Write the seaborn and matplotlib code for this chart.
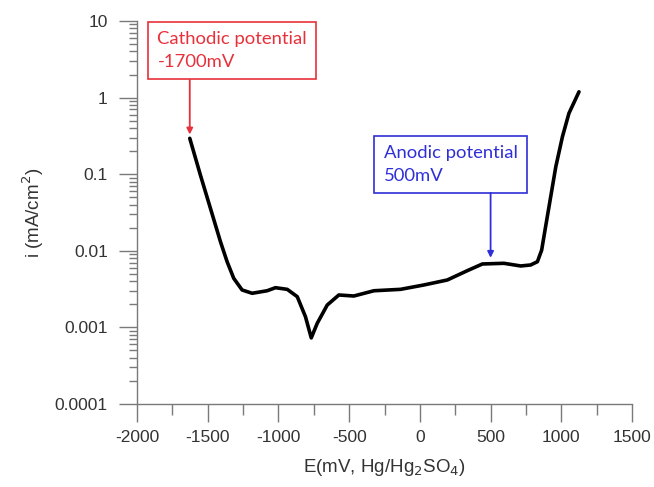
import pandas as pd
import seaborn as sns
import matplotlib.pyplot as plt
from matplotlib.ticker import LogLocator, MultipleLocator, FixedFormatter, FixedLocator

# polarization curve
potential = [-1627, -1552, -1481, -1410, -1363, -1316, -1257, -1186, -1080, -1021,
             -938, -867, -809, -768, -726, -655, -573, -467, -325, -137,
             28, 194, 335, 442, 594, 713, 783, 831, 861, 889,
             925, 961, 1008, 1054, 1125]
current = [0.294, 0.0977, 0.0359, 0.01315, 0.00721, 0.00437, 0.00308, 0.00279, 0.00301, 0.0033,
           0.00314, 0.00252, 0.00138, 0.00073, 0.00113, 0.00196, 0.00265, 0.00257, 0.00301, 0.00314,
           0.00358, 0.00416, 0.0055, 0.00673, 0.00687, 0.00634, 0.00653, 0.00721, 0.0102, 0.0207,
           0.0508, 0.125, 0.309, 0.624, 1.19]

y_ticks = [0.0001, 0.001, 0.01, 0.1, 1, 10]
y_labels = ['0.0001', '0.001', '0.01', '0.1', '1', '10']
x_ticks = [-2000, -1500, -1000, -500, 0, 500, 1000, 1500]

curve = pd.DataFrame({'E': potential, 'i': current})

sns.set_style('white')
plt.rcParams['font.family'] = ['Liberation Sans', 'DejaVu Sans']
plt.rcParams['axes.unicode_minus'] = False

fig = plt.figure(figsize=(6.54, 4.87), dpi=100)
ax = fig.add_axes([0.2095, 0.1704, 0.7569, 0.7865])

sns.lineplot(data=curve, x='E', y='i', sort=False, estimator=None, color='black', linewidth=2.6, ax=ax)

ax.set_yscale('log')
ax.set_xlim(-2000, 1500)
ax.set_ylim(0.0001, 10)
ax.yaxis.set_major_locator(FixedLocator(y_ticks))
ax.yaxis.set_major_formatter(FixedFormatter(y_labels))
ax.yaxis.set_minor_locator(LogLocator(base=10, subs=range(2, 10), numticks=20))
ax.xaxis.set_major_locator(FixedLocator(x_ticks))
ax.xaxis.set_minor_locator(MultipleLocator(250))

grey = '#7a7a7a'
for side in ['top', 'right']:
    ax.spines[side].set_visible(False)
for side in ['left', 'bottom']:
    ax.spines[side].set_color(grey)
    ax.spines[side].set_linewidth(1.0)

ax.tick_params(axis='y', which='major', direction='out', length=13, width=1, color=grey,
               labelsize=12.5, labelcolor='#333333', pad=8, left=True)
ax.tick_params(axis='y', which='minor', direction='out', length=6, width=1, color=grey, left=True)
ax.tick_params(axis='x', which='major', direction='out', length=13, width=1, color=grey,
               labelsize=12.5, labelcolor='#333333', pad=6, bottom=True)
ax.tick_params(axis='x', which='minor', direction='out', length=8, width=1, color=grey, bottom=True)

ax.set_xlabel('E(mV, Hg/Hg$_2$SO$_4$)', fontsize=13.5, color='#333333', labelpad=8)
ax.set_ylabel('i (mA/cm$^2$)', fontsize=13.5, color='#333333', labelpad=6)

red = '#e8303a'
blue = '#2f2fd8'

ax.text(-1856, 7.4, 'Cathodic potential\n-1700mV', color=red, fontsize=13.3, family=['Lato', 'DejaVu Sans'],
        ha='left', va='top', linespacing=1.5,
        bbox=dict(boxstyle='square,pad=0.5', fc='white', ec=red, lw=1.2))
ax.annotate('', xy=(potential[0], 0.33), xytext=(potential[0], 1.7),
            arrowprops=dict(arrowstyle='-|>', color=red, lw=1.3, mutation_scale=9, shrinkA=0, shrinkB=0))

ax.text(-257, 0.24, 'Anodic potential\n500mV', color=blue, fontsize=13.3, family=['Lato', 'DejaVu Sans'],
        ha='left', va='top', linespacing=1.5,
        bbox=dict(boxstyle='square,pad=0.5', fc='white', ec=blue, lw=1.2))
ax.annotate('', xy=(500, 0.0081), xytext=(500, 0.057),
            arrowprops=dict(arrowstyle='-|>', color=blue, lw=1.3, mutation_scale=9, shrinkA=0, shrinkB=0))

fig.savefig('out.png', dpi=100)
